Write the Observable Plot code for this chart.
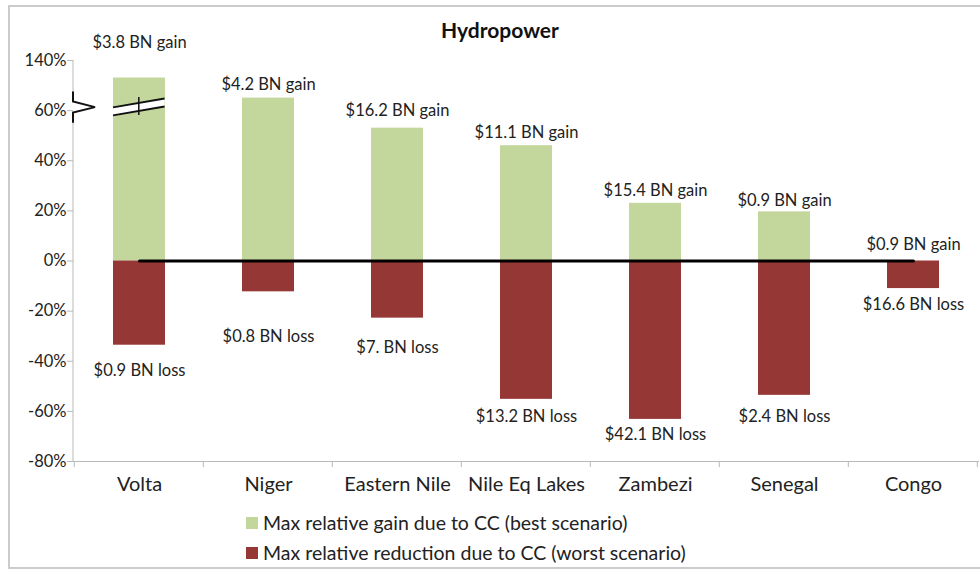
<!DOCTYPE html>
<html>
<head>
<meta charset="utf-8">
<script src="https://cdn.jsdelivr.net/npm/d3@7"></script>
<script src="https://cdn.jsdelivr.net/npm/@observablehq/plot@0.6"></script>
<style>
  html, body { margin: 0; padding: 0; background: #fff; overflow: hidden; }
  body { width: 980px; height: 575px; position: relative; font-family: Lato, "Open Sans", sans-serif; color: #222; }
  #frame { position: absolute; left: 8px; top: 5px; width: 1000px; height: 564px; border: 2px solid #cbcbcb; box-sizing: border-box; }
  #title { position: absolute; left: 0; width: 1000px; top: 17px; text-align: center; font-weight: bold; font-size: 21px; color: #111; line-height: 26px; }
  #chart { position: absolute; left: 0; top: 0; }
  .leg { position: absolute; left: 246px; font-size: 19.5px; line-height: 26px; color: #222; display: flex; align-items: center; }
  .sw { width: 12px; height: 12px; margin-right: 5px; display: inline-block; }
</style>
</head>
<body>
<div id="frame"></div>
<div id="title">Hydropower</div>
<div id="chart"></div>
<div class="leg" style="top:510px"><span class="sw" style="background:#c3d69b"></span>Max relative gain due to CC (best scenario)</div>
<div class="leg" style="top:540px"><span class="sw" style="background:#953735"></span>Max relative reduction due to CC (worst scenario)</div>
<script>
const categories = ["Volta", "Niger", "Eastern Nile", "Nile Eq Lakes", "Zambezi", "Senegal", "Congo"];
const gainValues = [73, 65, 53, 46, 23, 19.6, 0];
const reductionValues = [-33.6, -12.3, -22.8, -55.2, -63.2, -53.6, -11];
const gainLabels = ["$3.8 BN gain", "$4.2 BN gain", "$16.2 BN gain", "$11.1 BN gain", "$15.4 BN gain", "$0.9 BN gain", "$0.9 BN gain"];
const lossLabels = ["$0.9 BN loss", "$0.8 BN loss", "$7. BN loss", "$13.2 BN loss", "$42.1 BN loss", "$2.4 BN loss", "$16.6 BN loss"];
const yTicks = [-80, -60, -40, -20, 0, 20, 40, 60, 80];
const yTickLabels = ["-80%", "-60%", "-40%", "-20%", "0%", "20%", "40%", "60%", "140%"];
// label offsets (pixels from bar end)
const gainLabelOffset = [35, 13, 17, 13, 13, 11, 16];
const lossLabelOffset = [26, 45, 30, 17, 15, 21, 16];

const W = 980, H = 510, mTop = 60, mBottom = 49, mLeft = 73, mRight = 1;
const pxPerUnit = (H - mTop - mBottom) / 160;

const rows = categories.map((c, i) => ({
  cat: c, gain: gainValues[i], loss: reductionValues[i],
  gl: gainLabels[i], ll: lossLabels[i],
  gy: gainValues[i] + gainLabelOffset[i] / pxPerUnit,
  ly: reductionValues[i] - lossLabelOffset[i] / pxPerUnit
}));
const tickLabel = new Map(yTicks.map((t, i) => [t, yTickLabels[i]]));

const GREEN = "#c3d69b", RED = "#953735", GRAY = "#b9b9b9";

function decorations(index, scales) {
  const x = scales.x, y = scales.y;
  const g = d3.create("svg:g");
  const step = x(categories[1]) - x(categories[0]);
  const bw = step * 0.4;
  const y0 = y(-80);
  for (let i = 0; i <= categories.length; i++) {
    const xb = (i < categories.length ? x(categories[i]) : x(categories[i - 1]) + step) - step * 0.3;
    g.append("line").attr("x1", xb).attr("x2", xb).attr("y1", y0).attr("y2", y0 + 6).attr("stroke", GRAY);
  }
  const ax = mLeft;
  const yTop = y(80), yB1 = y(66.6), yB2 = y(55.8);
  g.append("line").attr("x1", ax).attr("x2", ax).attr("y1", yTop).attr("y2", yB1).attr("stroke", GRAY);
  g.append("line").attr("x1", ax).attr("x2", ax).attr("y1", yB2).attr("y2", y0).attr("stroke", GRAY);
  const yc = (yB1 + yB2) / 2;
  g.append("path")
    .attr("d", `M${ax},${yB1 - 2}V${yB1 + 8}L${ax + 22},${yc}L${ax},${yB2 - 8}V${yB2 + 2}`)
    .attr("fill", "none").attr("stroke", "#111").attr("stroke-width", 2);
  const bx0 = x("Volta"), bx1 = bx0 + bw, bxc = bx0 + bw / 2;
  const yl = y(59.5), yr = y(63.0);
  g.append("path")
    .attr("d", `M${bx0},${yl - 4}L${bx1},${yr - 4}L${bx1},${yr + 4}L${bx0},${yl + 4}Z`)
    .attr("fill", "#fff");
  g.append("line").attr("x1", bx0).attr("x2", bx1).attr("y1", yl - 4).attr("y2", yr - 4).attr("stroke", "#111").attr("stroke-width", 2);
  g.append("line").attr("x1", bx0).attr("x2", bx1).attr("y1", yl + 4).attr("y2", yr + 4).attr("stroke", "#111").attr("stroke-width", 2);
  g.append("line").attr("x1", bxc).attr("x2", bxc).attr("y1", (yl + yr) / 2 - 10).attr("y2", (yl + yr) / 2 + 8).attr("stroke", "#111").attr("stroke-width", 1.5);
  return g.node();
}

const plot = Plot.plot({
  width: W, height: H,
  marginTop: mTop, marginBottom: mBottom, marginLeft: mLeft, marginRight: mRight,
  style: { fontFamily: "Lato, 'Open Sans', sans-serif", background: "transparent", color: "#222" },
  x: { domain: categories, paddingInner: 0.6, paddingOuter: 0.3, axis: null },
  y: { domain: [-80, 80], axis: null },
  marks: [
    Plot.ruleY([-80], { stroke: GRAY }),
    Plot.barY(rows, { x: "cat", y: "gain", fill: GREEN }),
    Plot.barY(rows, { x: "cat", y: "loss", fill: RED }),
    Plot.axisY({ ticks: yTicks, tickFormat: d => tickLabel.get(d), tickSize: 6, tickPadding: 1, stroke: GRAY, fontSize: 16.5, fill: "#222", label: null }),
    Plot.axisX({ tickSize: 0, tickPadding: 15, fontSize: 20, fill: "#222", label: null }),
    Plot.line(rows, { x: "cat", y: () => 0, stroke: "#000", strokeWidth: 3 }),
    Plot.text(rows, { x: "cat", y: "gy", text: "gl", fontSize: 16.5, fill: "#222" }),
    Plot.text(rows, { x: "cat", y: "ly", text: "ll", fontSize: 16.5, fill: "#222" }),
    decorations
  ]
});
document.getElementById("chart").append(plot);
</script>
</body>
</html>
